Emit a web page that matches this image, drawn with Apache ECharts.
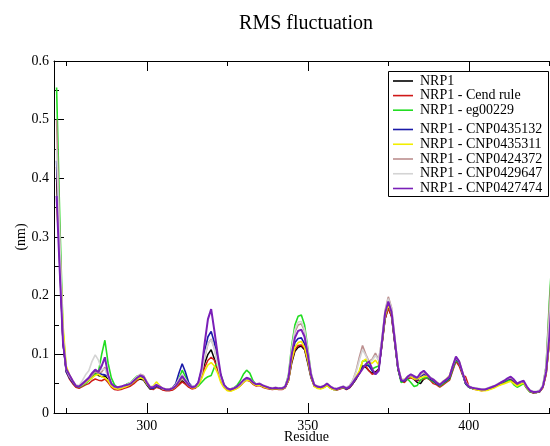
<!DOCTYPE html>
<html>
<head>
<meta charset="utf-8">
<script src="https://cdn.jsdelivr.net/npm/echarts@6/dist/echarts.min.js"></script>
<style>html,body{margin:0;padding:0;background:#fff}#c{width:550px;height:446px}</style>
</head>
<body>
<div id="c"></div>
<script>
// First residue of every series; each value below is one residue further.
const FIRST_RESIDUE = 272;
const seriesNames = ['NRP1', 'NRP1 - Cend rule', 'NRP1 - eg00229', 'NRP1 - CNP0435132',
  'NRP1 - CNP0435311', 'NRP1 - CNP0424372', 'NRP1 - CNP0429647', 'NRP1 - CNP0427474'];
const xMajorTicks = [300, 350, 400];
const xMinorTicks = [275, 325, 375, 425];

const nrp1 = [
0.40,0.25,0.12,0.072,0.06,0.052,0.045,0.044,0.048,0.052,
0.056,0.062,0.068,0.064,0.062,0.063,0.058,0.047,0.043,0.042,
0.043,0.045,0.046,0.048,0.052,0.056,0.058,0.056,0.048,0.041,
0.041,0.045,0.043,0.04,0.039,0.039,0.04,0.044,0.05,0.055,
0.05,0.045,0.042,0.043,0.048,0.062,0.085,0.1,0.108,0.092,
0.075,0.055,0.045,0.04,0.039,0.041,0.043,0.047,0.053,0.057,
0.055,0.05,0.047,0.048,0.045,0.043,0.042,0.041,0.042,0.041,
0.041,0.044,0.055,0.085,0.105,0.112,0.114,0.108,0.085,0.06,
0.046,0.044,0.043,0.045,0.048,0.044,0.041,0.04,0.042,0.044,
0.041,0.044,0.05,0.058,0.068,0.08,0.078,0.072,0.068,0.07,
0.075,0.115,0.16,0.18,0.165,0.12,0.075,0.055,0.054,0.06,
0.062,0.057,0.052,0.05,0.058,0.06,0.057,0.054,0.05,0.046,
0.05,0.054,0.058,0.075,0.09,0.085,0.068,0.05,0.044,0.042,
0.041,0.04,0.039,0.039,0.041,0.043,0.045,0.048,0.05,0.053,
0.056,0.058,0.054,0.048,0.05,0.052,0.043,0.037,0.035,0.035,
0.036,0.044,0.068,0.12,0.2,0.28,0.33];

const cendRule = [
0.42,0.26,0.12,0.07,0.058,0.05,0.044,0.042,0.045,0.048,
0.05,0.055,0.058,0.056,0.055,0.058,0.052,0.044,0.04,0.039,
0.04,0.042,0.044,0.046,0.05,0.055,0.06,0.058,0.05,0.042,
0.04,0.044,0.042,0.039,0.038,0.038,0.039,0.043,0.048,0.053,
0.049,0.044,0.041,0.042,0.047,0.06,0.078,0.09,0.095,0.09,
0.075,0.055,0.044,0.039,0.038,0.04,0.042,0.046,0.052,0.056,
0.054,0.049,0.046,0.047,0.044,0.042,0.041,0.04,0.041,0.04,
0.04,0.043,0.055,0.088,0.108,0.115,0.116,0.11,0.088,0.062,
0.046,0.043,0.042,0.044,0.047,0.043,0.04,0.039,0.041,0.043,
0.04,0.043,0.05,0.058,0.067,0.078,0.08,0.072,0.066,0.068,
0.074,0.115,0.16,0.178,0.165,0.12,0.075,0.054,0.052,0.058,
0.06,0.058,0.055,0.056,0.058,0.06,0.056,0.05,0.048,0.044,
0.048,0.052,0.056,0.072,0.088,0.08,0.065,0.062,0.046,0.042,
0.04,0.039,0.038,0.039,0.04,0.042,0.044,0.047,0.049,0.052,
0.055,0.057,0.053,0.047,0.049,0.051,0.042,0.036,0.034,0.035,
0.036,0.043,0.065,0.12,0.2,0.28,0.33];

const eg00229 = [
0.555,0.33,0.14,0.075,0.062,0.053,0.046,0.044,0.047,0.05,
0.055,0.06,0.066,0.07,0.1,0.124,0.085,0.06,0.048,0.043,
0.044,0.046,0.05,0.052,0.058,0.063,0.062,0.06,0.05,0.043,
0.042,0.046,0.044,0.041,0.04,0.04,0.042,0.047,0.058,0.073,
0.062,0.05,0.045,0.044,0.046,0.052,0.058,0.062,0.064,0.078,
0.085,0.065,0.048,0.042,0.041,0.043,0.047,0.055,0.066,0.073,
0.068,0.055,0.049,0.048,0.046,0.044,0.043,0.042,0.043,0.042,
0.042,0.046,0.065,0.115,0.15,0.165,0.167,0.15,0.11,0.068,
0.047,0.043,0.042,0.044,0.047,0.043,0.04,0.04,0.042,0.044,
0.041,0.045,0.051,0.06,0.07,0.088,0.09,0.08,0.075,0.078,
0.08,0.12,0.165,0.185,0.17,0.125,0.075,0.052,0.055,0.058,
0.052,0.045,0.047,0.056,0.06,0.06,0.057,0.053,0.05,0.046,
0.05,0.054,0.058,0.075,0.09,0.085,0.068,0.05,0.044,0.042,
0.041,0.04,0.039,0.039,0.04,0.042,0.045,0.048,0.05,0.053,
0.055,0.055,0.048,0.044,0.047,0.05,0.042,0.036,0.035,0.035,
0.037,0.046,0.08,0.19,0.28,0.34,0.38];

const cnp0435132 = [
0.43,0.27,0.12,0.07,0.06,0.052,0.046,0.045,0.049,0.054,
0.058,0.064,0.072,0.068,0.066,0.065,0.062,0.05,0.045,0.043,
0.044,0.046,0.047,0.049,0.054,0.058,0.061,0.06,0.05,0.043,
0.042,0.046,0.044,0.041,0.04,0.04,0.043,0.05,0.068,0.084,
0.07,0.052,0.045,0.045,0.052,0.072,0.105,0.13,0.139,0.12,
0.09,0.062,0.047,0.041,0.04,0.042,0.044,0.048,0.054,0.058,
0.056,0.051,0.048,0.049,0.046,0.044,0.042,0.041,0.042,0.041,
0.041,0.044,0.058,0.095,0.12,0.127,0.128,0.118,0.092,0.063,
0.047,0.044,0.043,0.045,0.049,0.044,0.041,0.04,0.042,0.044,
0.041,0.044,0.051,0.059,0.068,0.078,0.082,0.08,0.072,0.066,
0.072,0.118,0.165,0.185,0.17,0.122,0.076,0.055,0.054,0.06,
0.063,0.06,0.056,0.062,0.066,0.063,0.058,0.055,0.05,0.047,
0.052,0.055,0.06,0.078,0.092,0.086,0.068,0.05,0.044,0.042,
0.041,0.04,0.039,0.04,0.041,0.043,0.045,0.048,0.051,0.054,
0.057,0.059,0.055,0.049,0.05,0.053,0.043,0.037,0.035,0.036,
0.037,0.045,0.07,0.13,0.21,0.29,0.34];

const cnp0435311 = [
0.35,0.28,0.15,0.08,0.065,0.055,0.047,0.045,0.048,0.052,
0.056,0.06,0.064,0.066,0.062,0.06,0.055,0.046,0.042,0.041,
0.042,0.044,0.046,0.049,0.053,0.058,0.06,0.058,0.05,0.044,
0.046,0.053,0.047,0.041,0.04,0.04,0.041,0.045,0.052,0.06,
0.054,0.047,0.043,0.043,0.048,0.058,0.072,0.082,0.086,0.08,
0.068,0.052,0.043,0.038,0.037,0.039,0.042,0.046,0.052,0.056,
0.055,0.05,0.047,0.048,0.045,0.043,0.042,0.041,0.042,0.041,
0.041,0.044,0.056,0.09,0.112,0.12,0.122,0.112,0.09,0.062,
0.045,0.042,0.041,0.043,0.047,0.042,0.04,0.04,0.042,0.044,
0.042,0.046,0.053,0.062,0.072,0.088,0.092,0.085,0.085,0.09,
0.082,0.118,0.165,0.185,0.17,0.125,0.078,0.058,0.057,0.062,
0.062,0.058,0.058,0.06,0.062,0.063,0.06,0.057,0.053,0.049,
0.054,0.058,0.064,0.08,0.095,0.088,0.07,0.052,0.045,0.042,
0.04,0.039,0.038,0.038,0.039,0.041,0.043,0.046,0.048,0.05,
0.052,0.054,0.05,0.046,0.049,0.051,0.043,0.037,0.036,0.036,
0.037,0.044,0.068,0.12,0.2,0.28,0.33];

const cnp0424372 = [
0.5,0.3,0.13,0.074,0.062,0.054,0.047,0.045,0.048,0.053,
0.058,0.064,0.07,0.068,0.07,0.078,0.062,0.049,0.044,0.043,
0.044,0.046,0.048,0.051,0.056,0.062,0.066,0.064,0.054,0.045,
0.044,0.048,0.045,0.042,0.041,0.041,0.043,0.047,0.054,0.06,
0.053,0.047,0.044,0.045,0.05,0.066,0.095,0.118,0.126,0.11,
0.085,0.06,0.046,0.041,0.04,0.042,0.044,0.048,0.054,0.058,
0.057,0.052,0.049,0.05,0.047,0.045,0.043,0.042,0.043,0.042,
0.042,0.045,0.062,0.105,0.138,0.15,0.152,0.14,0.105,0.068,
0.048,0.045,0.044,0.046,0.05,0.045,0.042,0.041,0.043,0.045,
0.043,0.047,0.056,0.072,0.095,0.115,0.1,0.088,0.092,0.102,
0.09,0.125,0.175,0.198,0.18,0.13,0.08,0.057,0.056,0.061,
0.064,0.062,0.06,0.064,0.068,0.066,0.06,0.057,0.052,0.048,
0.053,0.057,0.062,0.08,0.094,0.087,0.07,0.052,0.045,0.043,
0.042,0.041,0.04,0.04,0.042,0.044,0.046,0.049,0.052,0.055,
0.058,0.06,0.056,0.05,0.052,0.054,0.044,0.038,0.036,0.036,
0.038,0.047,0.08,0.18,0.27,0.33,0.37];

const cnp0429647 = [
0.45,0.29,0.13,0.075,0.063,0.055,0.048,0.047,0.055,0.065,
0.072,0.088,0.099,0.09,0.074,0.075,0.062,0.05,0.045,0.044,
0.045,0.047,0.049,0.052,0.057,0.062,0.065,0.063,0.053,0.045,
0.045,0.049,0.046,0.042,0.041,0.041,0.043,0.048,0.058,0.066,
0.058,0.049,0.045,0.046,0.051,0.068,0.098,0.118,0.125,0.11,
0.082,0.06,0.047,0.042,0.041,0.043,0.045,0.049,0.055,0.06,
0.058,0.053,0.05,0.051,0.048,0.046,0.044,0.043,0.044,0.043,
0.043,0.046,0.064,0.11,0.142,0.155,0.156,0.142,0.108,0.07,
0.049,0.046,0.045,0.047,0.051,0.046,0.043,0.042,0.044,0.046,
0.044,0.047,0.056,0.07,0.09,0.108,0.098,0.086,0.09,0.098,
0.09,0.125,0.172,0.195,0.178,0.13,0.08,0.058,0.057,0.062,
0.065,0.063,0.061,0.066,0.07,0.067,0.061,0.058,0.053,0.049,
0.054,0.058,0.063,0.081,0.095,0.088,0.071,0.053,0.046,0.044,
0.043,0.042,0.041,0.041,0.043,0.045,0.047,0.05,0.053,0.056,
0.059,0.061,0.057,0.051,0.053,0.055,0.045,0.039,0.037,0.037,
0.039,0.048,0.078,0.16,0.25,0.32,0.36];

const cnp0427474 = [
0.37,0.24,0.12,0.075,0.065,0.055,0.046,0.045,0.05,0.055,
0.06,0.068,0.074,0.07,0.08,0.095,0.065,0.05,0.045,0.044,
0.045,0.047,0.048,0.05,0.055,0.06,0.064,0.062,0.052,0.044,
0.044,0.048,0.045,0.042,0.04,0.04,0.042,0.046,0.054,0.063,
0.055,0.048,0.044,0.045,0.052,0.075,0.12,0.16,0.177,0.14,
0.1,0.065,0.048,0.042,0.04,0.042,0.045,0.05,0.056,0.06,
0.058,0.052,0.049,0.05,0.047,0.045,0.043,0.042,0.043,0.042,
0.042,0.045,0.06,0.1,0.128,0.14,0.142,0.13,0.1,0.065,
0.048,0.045,0.044,0.046,0.05,0.045,0.042,0.041,0.043,0.045,
0.042,0.045,0.052,0.06,0.067,0.075,0.083,0.088,0.075,0.066,
0.072,0.12,0.17,0.19,0.172,0.125,0.078,0.056,0.055,0.062,
0.066,0.063,0.06,0.068,0.072,0.066,0.06,0.057,0.052,0.048,
0.053,0.057,0.062,0.08,0.096,0.088,0.07,0.052,0.045,0.043,
0.042,0.041,0.04,0.04,0.042,0.044,0.046,0.049,0.052,0.055,
0.059,0.062,0.057,0.05,0.053,0.055,0.045,0.038,0.036,0.036,
0.037,0.045,0.07,0.13,0.22,0.3,0.35];

const seriesValues = [nrp1, cendRule, eg00229, cnp0435132, cnp0435311, cnp0424372, cnp0429647, cnp0427474];
const seriesColors = ['#000000', '#d01818', '#22dd22', '#1a1aa8', '#f2ee00', '#bc8f8f', '#d4d4d4', '#7a1fb8'];
const seriesWidths = [1.5, 1.5, 1.6, 1.6, 1.6, 1.6, 1.6, 2];

const FONT = 'Liberation Serif';
const chart = echarts.init(document.getElementById('c'), null, {renderer: 'canvas'});

const X_MIN = 271.2, X_MAX = 428;
function xAx(pos, ticks, len, showLine, labels, extra) {
  return Object.assign({
    type: 'value', position: pos, min: X_MIN, max: X_MAX,
    axisLine: {show: showLine, onZero: false, lineStyle: {color: '#000', width: 1}},
    axisTick: {show: true, inside: true, length: len, customValues: ticks, lineStyle: {color: '#000', width: 1}},
    axisLabel: labels ? {show: true, customValues: ticks, color: '#000', fontFamily: FONT, fontSize: 14, margin: 6} : {show: false},
    splitLine: {show: false}
  }, extra || {});
}
const LEGEND_ICON = 'path://M0,0L20,0L20,1.6L0,1.6Z';

chart.setOption({
  animation: false,
  backgroundColor: '#fff',
  title: {
    text: 'RMS fluctuation', left: 306, top: 14, textAlign: 'center', padding: 0,
    textStyle: {fontFamily: FONT, fontSize: 20, fontWeight: 'normal', color: '#000'}
  },
  grid: {left: 54, top: 61, width: 505, height: 352, containLabel: false, outerBoundsMode: 'none'},
  xAxis: [
    xAx('bottom', xMajorTicks, 10, true, true, {
      name: 'Residue', nameLocation: 'middle', nameGap: 17, nameMoveOverlap: false,
      nameTextStyle: {fontFamily: FONT, fontSize: 14, color: '#000'}
    }),
    xAx('bottom', xMinorTicks, 5, false, false),
    xAx('top', xMajorTicks, 10, true, false),
    xAx('top', xMinorTicks, 5, false, false)
  ],
  yAxis: {
    type: 'value', min: 0, max: 0.6, interval: 0.1,
    name: '(nm)', nameLocation: 'middle', nameGap: 26, nameRotate: 90, nameMoveOverlap: false,
    nameTextStyle: {fontFamily: FONT, fontSize: 14, color: '#000'},
    axisLine: {show: true, lineStyle: {color: '#000', width: 1}},
    axisTick: {show: true, inside: true, length: 10, lineStyle: {color: '#000'}},
    minorTick: {show: true, splitNumber: 2, length: 5, lineStyle: {color: '#000'}},
    axisLabel: {color: '#000', fontFamily: FONT, fontSize: 14, margin: 5,
      formatter: v => (v === 0 ? '0' : v.toFixed(1))},
    splitLine: {show: false}
  },
  graphic: [{
    type: 'rect', left: 388, top: 71, z: 90,
    shape: {x: 0, y: 0, width: 160, height: 125},
    style: {fill: '#fff', stroke: '#000', lineWidth: 1}
  }],
  legend: [
    {
      data: seriesNames.slice(0, 3), orient: 'vertical', left: 393, top: 74, padding: 0,
      icon: LEGEND_ICON, itemWidth: 20, itemHeight: 14, itemGap: 0.6, z: 100,
      textStyle: {fontFamily: FONT, fontSize: 14, color: '#000', lineHeight: 14, padding: [0, 0, 0, 2]}
    },
    {
      data: seriesNames.slice(3), orient: 'vertical', left: 393, top: 122.5, padding: 0,
      icon: LEGEND_ICON, itemWidth: 20, itemHeight: 14, itemGap: 0.75, z: 100,
      textStyle: {fontFamily: FONT, fontSize: 14, color: '#000', lineHeight: 14, padding: [0, 0, 0, 2]}
    }
  ],
  series: seriesNames.map((name, k) => ({
    name: name, type: 'line', xAxisIndex: 0, symbol: 'none', smooth: false,
    lineStyle: {color: seriesColors[k], width: seriesWidths[k]},
    itemStyle: {color: seriesColors[k]},
    data: seriesValues[k].map((v, i) => [FIRST_RESIDUE + i, v])
  }))
});
</script>
</body>
</html>
